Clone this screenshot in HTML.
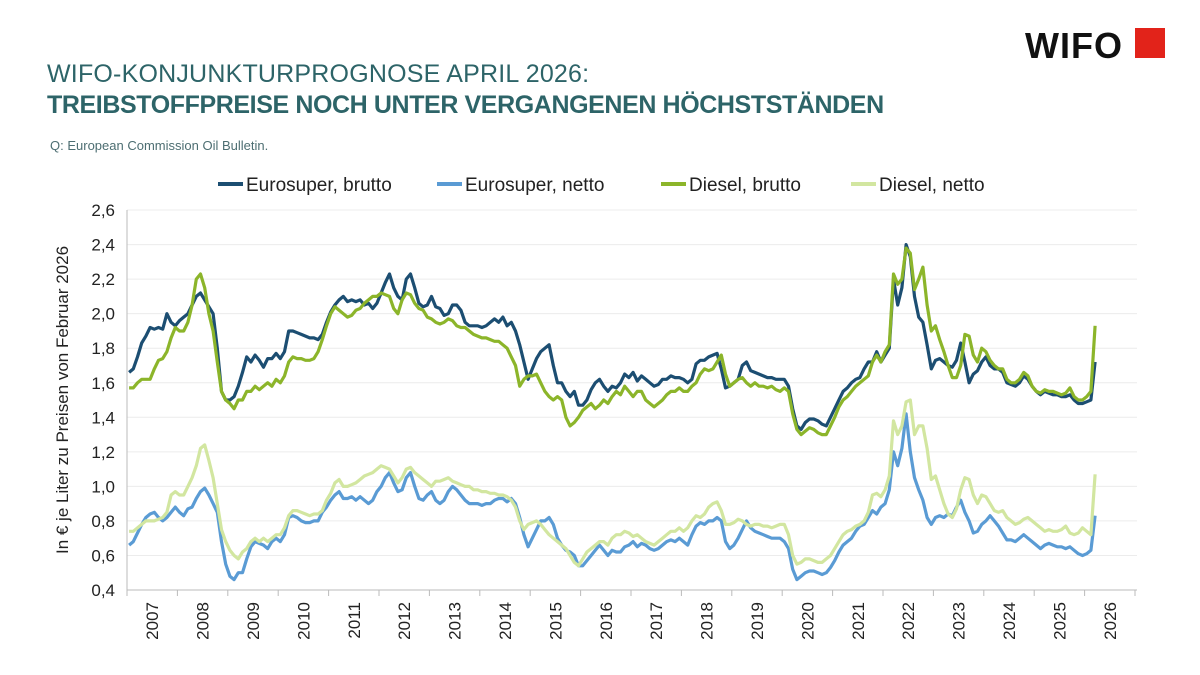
<!DOCTYPE html>
<html><head><meta charset="utf-8"><style>
body{margin:0;width:1200px;height:675px;background:#fff;font-family:"Liberation Sans",sans-serif;overflow:hidden;position:relative}
.t1{position:absolute;left:47px;top:60px;font-size:25px;color:#2d6468;letter-spacing:0.2px}
.t2{position:absolute;left:47px;top:91px;font-size:25px;font-weight:bold;color:#2d6468;letter-spacing:-0.4px}
.src{position:absolute;left:50px;top:138px;font-size:13px;color:#4d6e72}
.logo{position:absolute;left:1025px;top:25px;font-size:36px;font-weight:bold;color:#111;letter-spacing:1px}
.sq{position:absolute;left:1135px;top:28px;width:30px;height:30px;background:#e2231a}
</style></head><body>
<div class="t1">WIFO-KONJUNKTURPROGNOSE APRIL 2026:</div>
<div class="t2">TREIBSTOFFPREISE NOCH UNTER VERGANGENEN HÖCHSTSTÄNDEN</div>
<div class="src">Q: European Commission Oil Bulletin.</div>
<div class="logo">WIFO</div>
<div class="sq"></div>
<svg id="chart" width="1200" height="675" style="position:absolute;left:0;top:0"></svg>
<script>
const yTicks=[0.4,0.6,0.8,1.0,1.2,1.4,1.6,1.8,2.0,2.2,2.4,2.6];
const years=[2007,2008,2009,2010,2011,2012,2013,2014,2015,2016,2017,2018,2019,2020,2021,2022,2023,2024,2025,2026];
const seriesNames=["Eurosuper, brutto","Eurosuper, netto","Diesel, brutto","Diesel, netto"];
const esBrutto=[1.66,1.68,1.75,1.83,1.87,1.92,1.91,1.92,1.91,2.0,1.95,1.93,
1.96,1.98,2.0,2.05,2.1,2.12,2.08,2.04,2.0,1.8,1.55,1.5,
1.5,1.52,1.58,1.66,1.75,1.72,1.76,1.73,1.69,1.74,1.74,1.77,
1.74,1.78,1.9,1.9,1.89,1.88,1.87,1.86,1.86,1.85,1.88,1.95,
2.01,2.05,2.08,2.1,2.07,2.08,2.07,2.08,2.05,2.06,2.03,2.06,
2.12,2.18,2.23,2.15,2.1,2.08,2.2,2.23,2.15,2.06,2.04,2.05,
2.1,2.04,2.03,1.99,2.0,2.05,2.05,2.02,1.95,1.93,1.93,1.93,
1.92,1.93,1.95,1.97,1.95,1.98,1.93,1.95,1.9,1.82,1.72,1.62,
1.68,1.74,1.78,1.8,1.82,1.7,1.6,1.6,1.55,1.52,1.55,1.47,
1.47,1.5,1.56,1.6,1.62,1.58,1.55,1.58,1.57,1.6,1.65,1.63,
1.66,1.61,1.64,1.62,1.6,1.58,1.59,1.62,1.62,1.64,1.63,1.63,
1.62,1.6,1.62,1.71,1.73,1.73,1.75,1.76,1.77,1.68,1.57,1.58,
1.6,1.62,1.7,1.72,1.67,1.66,1.65,1.64,1.63,1.63,1.62,1.62,
1.62,1.58,1.45,1.35,1.33,1.37,1.39,1.39,1.38,1.36,1.35,1.4,
1.45,1.5,1.55,1.57,1.6,1.62,1.63,1.68,1.72,1.72,1.78,1.72,
1.76,1.8,2.2,2.05,2.15,2.4,2.33,2.1,1.98,1.95,1.82,1.68,
1.73,1.74,1.72,1.7,1.69,1.73,1.83,1.72,1.6,1.65,1.67,1.72,
1.75,1.7,1.68,1.68,1.66,1.6,1.59,1.58,1.6,1.64,1.62,1.58,
1.55,1.53,1.55,1.54,1.53,1.53,1.52,1.52,1.53,1.5,1.48,1.48,
1.49,1.5,1.72];
const esNetto=[0.66,0.68,0.73,0.78,0.82,0.84,0.85,0.82,0.8,0.82,0.85,0.88,
0.85,0.83,0.87,0.88,0.93,0.97,0.99,0.95,0.9,0.85,0.68,0.55,
0.48,0.46,0.5,0.5,0.58,0.65,0.68,0.67,0.66,0.64,0.68,0.7,
0.68,0.72,0.82,0.83,0.82,0.8,0.79,0.79,0.8,0.8,0.85,0.88,
0.92,0.95,0.97,0.93,0.93,0.94,0.92,0.94,0.92,0.9,0.92,0.97,
1.0,1.05,1.08,1.02,0.97,0.98,1.05,1.08,1.0,0.93,0.92,0.95,
0.97,0.92,0.9,0.92,0.97,1.0,0.98,0.95,0.92,0.9,0.9,0.9,
0.89,0.9,0.9,0.92,0.93,0.93,0.91,0.93,0.9,0.82,0.72,0.65,
0.7,0.75,0.8,0.8,0.82,0.78,0.7,0.66,0.63,0.62,0.6,0.54,
0.54,0.57,0.6,0.63,0.66,0.63,0.6,0.63,0.62,0.62,0.65,0.66,
0.68,0.65,0.67,0.66,0.64,0.63,0.64,0.66,0.68,0.69,0.68,0.7,
0.68,0.66,0.72,0.77,0.79,0.78,0.8,0.8,0.82,0.8,0.68,0.64,
0.66,0.7,0.75,0.8,0.76,0.74,0.73,0.72,0.71,0.7,0.7,0.7,
0.68,0.64,0.52,0.46,0.48,0.5,0.51,0.51,0.5,0.49,0.5,0.53,
0.57,0.62,0.66,0.68,0.7,0.74,0.77,0.78,0.82,0.86,0.84,0.88,
0.9,0.98,1.2,1.12,1.22,1.42,1.2,1.05,0.98,0.92,0.82,0.78,
0.82,0.83,0.82,0.84,0.83,0.88,0.92,0.85,0.8,0.73,0.74,0.78,
0.8,0.83,0.8,0.77,0.73,0.69,0.69,0.68,0.7,0.72,0.7,0.68,
0.66,0.64,0.66,0.67,0.66,0.65,0.65,0.64,0.65,0.63,0.61,0.6,
0.61,0.63,0.83];
const dBrutto=[1.57,1.57,1.6,1.62,1.62,1.62,1.68,1.73,1.74,1.78,1.86,1.92,
1.9,1.9,1.95,2.05,2.2,2.23,2.15,2.0,1.9,1.72,1.55,1.5,
1.48,1.45,1.5,1.5,1.55,1.55,1.58,1.56,1.58,1.6,1.58,1.62,
1.6,1.64,1.72,1.75,1.74,1.74,1.73,1.73,1.74,1.78,1.85,1.93,
2.0,2.04,2.02,2.0,1.98,1.99,2.02,2.03,2.06,2.08,2.1,2.1,
2.12,2.11,2.1,2.03,2.0,2.08,2.12,2.11,2.06,2.03,2.02,1.98,
1.97,1.95,1.94,1.95,1.97,1.96,1.93,1.92,1.92,1.9,1.88,1.87,
1.86,1.86,1.85,1.84,1.84,1.82,1.8,1.75,1.7,1.58,1.62,1.64,
1.64,1.65,1.6,1.55,1.52,1.5,1.52,1.5,1.4,1.35,1.37,1.4,
1.44,1.46,1.48,1.45,1.47,1.5,1.48,1.52,1.55,1.53,1.58,1.55,
1.52,1.55,1.55,1.5,1.48,1.46,1.48,1.5,1.53,1.55,1.55,1.57,
1.55,1.55,1.58,1.6,1.65,1.68,1.67,1.68,1.72,1.76,1.65,1.58,
1.6,1.62,1.63,1.6,1.58,1.6,1.58,1.58,1.57,1.58,1.56,1.55,
1.57,1.55,1.42,1.33,1.3,1.32,1.34,1.33,1.31,1.3,1.3,1.35,
1.4,1.46,1.5,1.52,1.55,1.58,1.6,1.62,1.64,1.72,1.76,1.72,
1.78,1.82,2.23,2.17,2.2,2.38,2.35,2.14,2.2,2.27,2.05,1.9,
1.93,1.85,1.78,1.7,1.63,1.63,1.7,1.88,1.87,1.76,1.72,1.8,
1.78,1.73,1.7,1.68,1.68,1.62,1.6,1.6,1.62,1.66,1.64,1.58,
1.55,1.54,1.56,1.55,1.55,1.54,1.53,1.54,1.57,1.52,1.5,1.5,
1.52,1.55,1.93];
const dNetto=[0.74,0.74,0.76,0.78,0.8,0.8,0.8,0.81,0.82,0.85,0.95,0.97,
0.95,0.95,1.0,1.05,1.12,1.22,1.24,1.15,1.05,0.9,0.75,0.68,
0.63,0.6,0.58,0.62,0.64,0.68,0.7,0.68,0.7,0.68,0.7,0.72,
0.72,0.76,0.83,0.86,0.86,0.85,0.84,0.83,0.84,0.84,0.86,0.92,
0.96,1.02,1.04,1.0,1.0,1.01,1.02,1.04,1.06,1.07,1.08,1.1,
1.12,1.11,1.1,1.06,1.02,1.05,1.1,1.11,1.08,1.06,1.04,1.02,
1.0,1.03,1.03,1.04,1.05,1.03,1.02,1.01,1.0,1.0,0.98,0.98,
0.97,0.97,0.96,0.96,0.95,0.95,0.94,0.92,0.88,0.8,0.75,0.78,
0.79,0.8,0.78,0.75,0.72,0.7,0.68,0.66,0.64,0.6,0.56,0.54,
0.58,0.62,0.64,0.66,0.68,0.68,0.66,0.7,0.72,0.72,0.74,0.73,
0.71,0.72,0.7,0.68,0.67,0.66,0.68,0.7,0.72,0.74,0.74,0.76,
0.74,0.76,0.8,0.83,0.82,0.84,0.88,0.9,0.91,0.86,0.78,0.78,
0.79,0.81,0.8,0.78,0.77,0.78,0.78,0.77,0.77,0.76,0.77,0.78,
0.78,0.72,0.6,0.55,0.56,0.58,0.58,0.57,0.56,0.56,0.58,0.6,
0.64,0.68,0.72,0.74,0.75,0.77,0.78,0.8,0.85,0.95,0.96,0.94,
0.98,1.06,1.38,1.3,1.35,1.49,1.5,1.3,1.35,1.35,1.22,1.04,
1.06,0.98,0.9,0.84,0.82,0.87,0.98,1.05,1.04,0.95,0.9,0.95,
0.94,0.9,0.86,0.85,0.86,0.82,0.8,0.78,0.79,0.81,0.82,0.8,
0.78,0.76,0.74,0.75,0.74,0.74,0.75,0.77,0.73,0.72,0.73,0.76,
0.74,0.72,1.07];
const colors=["#1c4e72","#5a9bd4","#8cb52a","#d2e6a0"];
const allSeries=[esBrutto,esNetto,dBrutto,dNetto];
const X0=127,YW=50.4,Y0=590,YPX=172.7;
function xPos(i){return X0+(i+0.5)/12*YW;}
function yPos(v){return Y0-(v-0.4)*YPX;}
const svg=document.getElementById('chart');const NS="http://www.w3.org/2000/svg";
function mk(t,a){const e=document.createElementNS(NS,t);for(const k in a)e.setAttribute(k,a[k]);svg.appendChild(e);return e;}
yTicks.forEach(v=>{
 const g=mk('line',{x1:X0,x2:1137,y1:yPos(v),y2:yPos(v),stroke:'#ececec','stroke-width':1});
 
 
 const t=mk('text',{x:X0-12,y:yPos(v)+6,'text-anchor':'end','font-size':17,fill:'#222'});
 t.textContent=v.toFixed(1).replace('.',',');
 
 
});
const ax=mk('line',{x1:X0,x2:X0,y1:yPos(2.6),y2:Y0,stroke:'#bbb'});


const bx=mk('line',{x1:X0,x2:1137,y1:Y0,y2:Y0,stroke:'#bbb'});


years.forEach((yr,k)=>{
 const x=X0+k*YW;
 const tk=mk('line',{x1:x,x2:x,y1:Y0,y2:Y0+6,stroke:'#bbb'});
 
 
 const cx=x+YW/2;
 const t=mk('text',{x:cx,y:602,transform:`rotate(-90 ${cx} 602)`,'text-anchor':'end','font-size':17,fill:'#222',dy:6});
 t.textContent=yr;
 
 
});
const endX=X0+20*YW;
const lastTk=mk('line',{x1:endX,x2:endX,y1:Y0,y2:Y0+6,stroke:'#bbb'});


[1,0,3,2].forEach(s=>{
 const d=allSeries[s].map((v,i)=>(i?'L':'M')+xPos(i).toFixed(1)+','+yPos(v).toFixed(1)).join('');
 const p=mk('path',{d:d,fill:'none',stroke:colors[s],'stroke-width':3.2,'stroke-linejoin':'round'});
 
 
});
const legX=[218,437,661,851];
seriesNames.forEach((n,s)=>{
 const l=mk('line',{x1:legX[s],x2:legX[s]+25,y1:184,y2:184,stroke:colors[s],'stroke-width':4});
 
 
 const t=mk('text',{x:legX[s]+28,y:191,'font-size':19,fill:'#222'});
 t.textContent=n;
 
 
});
const yt=mk('text',{x:68,y:400,transform:'rotate(-90 68 400)','text-anchor':'middle','font-size':17,fill:'#222'});
yt.textContent='In € je Liter zu Preisen von Februar 2026';


</script>
</body></html>
